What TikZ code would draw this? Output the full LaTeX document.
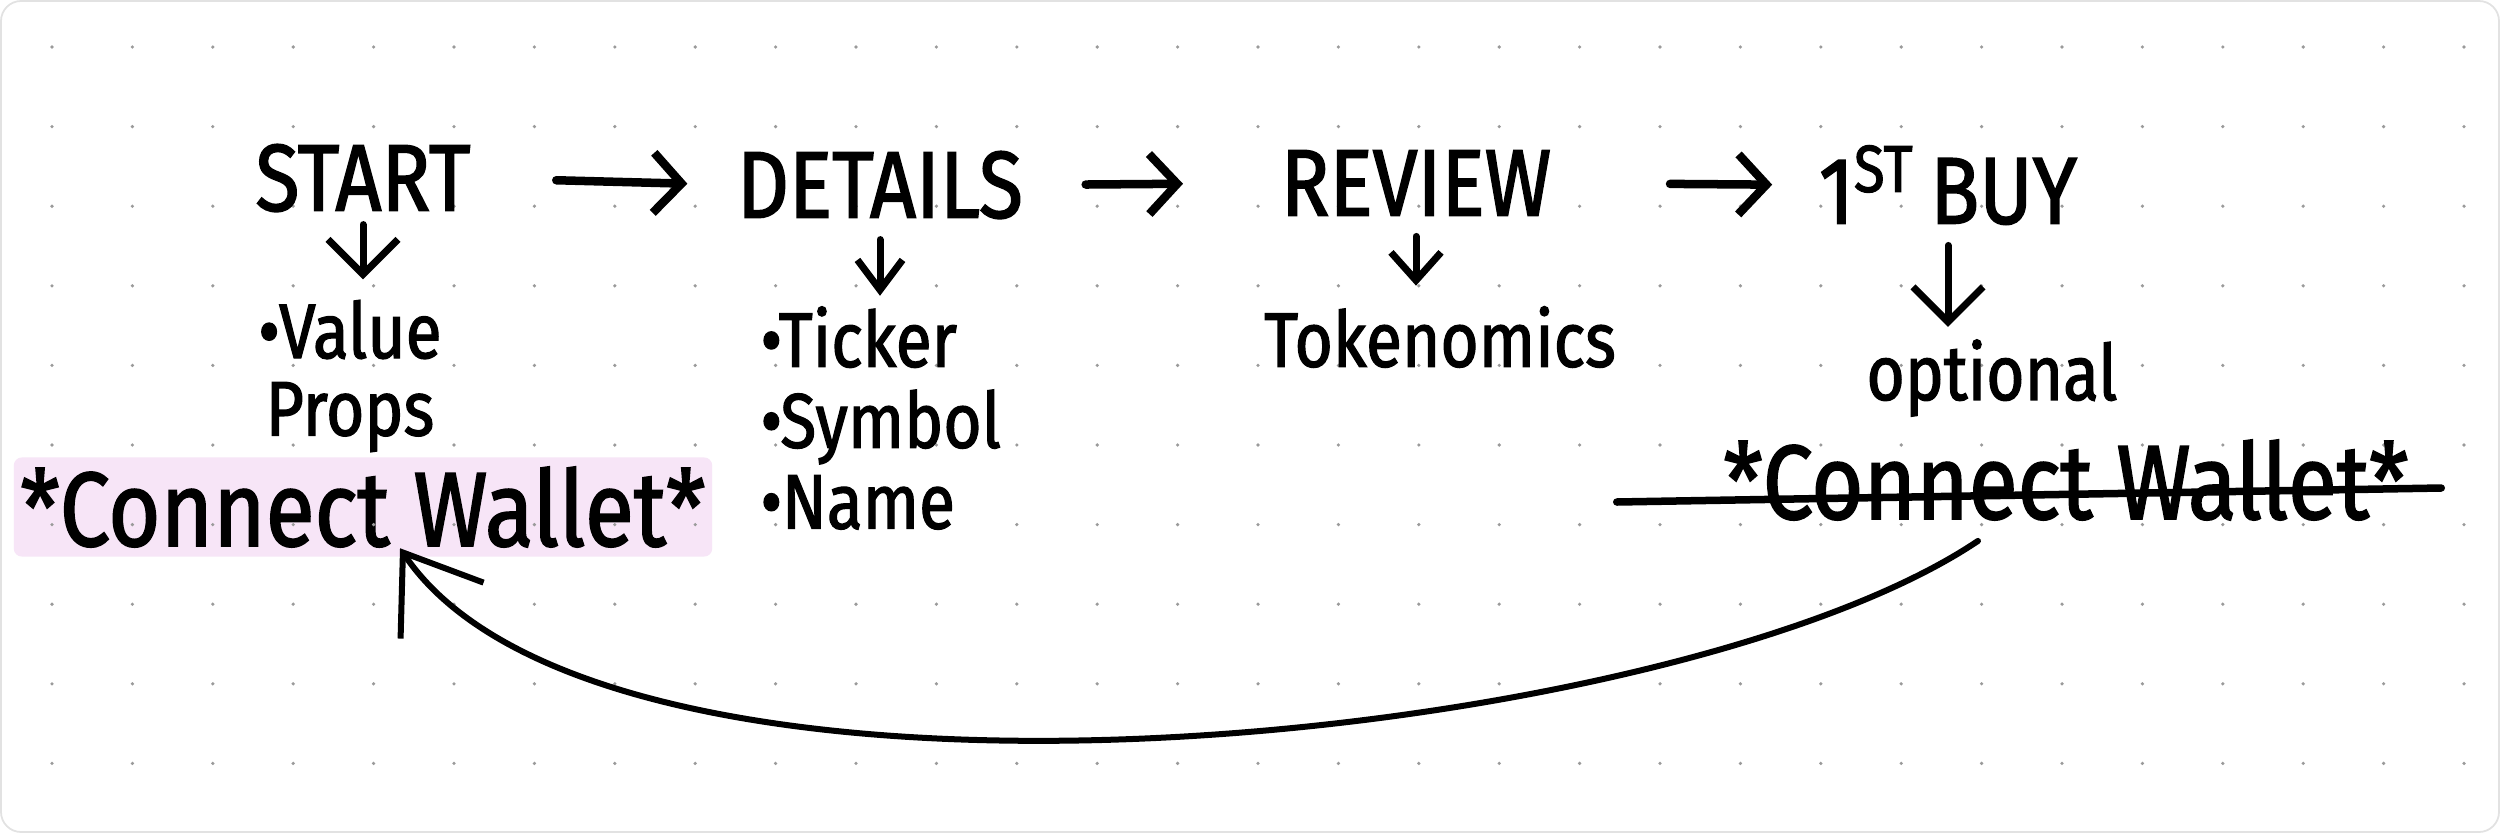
\documentclass[tikz,border=0pt]{standalone}
\usepackage{fontspec}
\newfontfamily\hand[FakeStretch=0.85,FakeBold=1.6]{Fira Sans}
\usetikzlibrary{arrows.meta,calc}
\definecolor{wallpink}{HTML}{F7E5F7}
\definecolor{dotgray}{HTML}{9A9A9A}
\definecolor{framegray}{HTML}{E2E2E2}
\begin{document}
\begin{tikzpicture}[x=0.01cm, y=-0.01cm,
  stage/.style={font=\hand\fontsize{27}{30}\selectfont, inner sep=0pt},
  item/.style={font=\hand\fontsize{22}{23}\selectfont, inner sep=0pt},
  wallet/.style={font=\hand\fontsize{30}{32}\selectfont, inner sep=0pt},
  flow/.style={line width=0.085cm, line cap=round, -{Straight Barb[length=0.28cm,width=0.6cm]}},
  down/.style={line width=0.07cm, line cap=round, -{Straight Barb[length=0.35cm,width=0.7cm]}},
  back/.style={line width=0.06cm, line cap=round, -{Straight Barb[length=0.7cm,width=1.0cm]}},
  strike/.style={line width=0.075cm, line cap=round},
  griddot/.style={fill=dotgray}]
\useasboundingbox (0,0) rectangle (2500,833);
\draw[framegray, fill=white, rounded corners=0.2cm, line width=0.5pt] (1,1) rectangle (2499,832);
% highlighted wallet step
\node[wallet, fill=wallpink, rounded corners=0.08cm, minimum width=6.98cm, minimum height=0.99cm] (cw1) at (363,507) {*Connect Wallet*};
% dot grid
\foreach \i in {0,...,30}
  \foreach \j in {0,...,9}
    \fill[griddot] ({52+80.4*\i},{47+79.6*\j}) circle (0.018cm);
% stages
\node[stage] (start) at (363,178) {START};
\node[stage] (details) at (880,185) {DETAILS};
\node[stage] (review) at (1416,183) {REVIEW};
\node[stage] (buy) at (1948,185) {1\textsuperscript{ST}\,BUY};
% what each stage holds
\node[item, align=center] (vp) at (350,376) {\textbullet Value\\[-1pt]Props};
\node[item, align=left, anchor=west] (tsn) at (760,418) {\textbullet Ticker\\\textbullet Symbol\\\textbullet Name};
\node[item] (toke) at (1440,337) {Tokenomics};
\node[item] (opt) at (1992,378) {optional};
\node[wallet] (cw2) at (2066,480) {*Connect Wallet*};
\draw[strike] ($(cw2.west)+(-106,22)$) -- ($(cw2.east)+(32,8)$);
% flow
\draw[flow, shorten <=0.85cm, shorten >=0.49cm] (start.east) -- (details.west);
\draw[flow, shorten <=0.62cm, shorten >=0.97cm] (details.east) -- (review.west);
\draw[flow, shorten <=1.18cm, shorten >=0.46cm] (review.east) -- (buy.west);
\draw[down, shorten <=0.12cm, shorten >=0.2cm] (start.south) -- (start.south |- vp.north);
\draw[down, -{Straight Barb[length=0.3cm,width=0.45cm]}, shorten <=0.2cm, shorten >=0.1cm] (details.south) -- (details.south |- tsn.north);
\draw[down, -{Straight Barb[length=0.28cm,width=0.5cm]}, shorten <=0.2cm, shorten >=0.2cm] (review.south) -- (review.south |- toke.north);
\draw[down, shorten <=0.2cm, shorten >=0.12cm] (buy.south) -- (buy.south |- opt.north);
% back to the wallet step
\draw[back] ([xshift=-0.88cm,yshift=-0.2cm]cw2.south) .. controls +(-307,207) and +(207,307) .. ([xshift=0.37cm,yshift=0.09cm]cw1.south);
\end{tikzpicture}
\end{document}
